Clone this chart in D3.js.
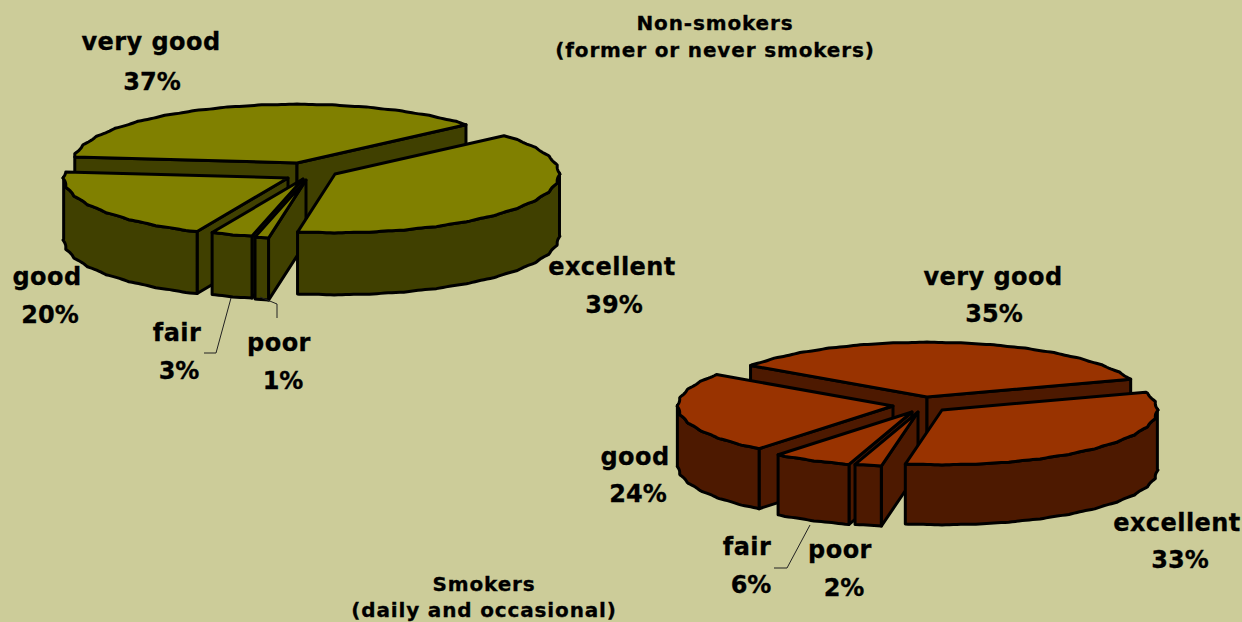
<!DOCTYPE html>
<html>
<head>
<meta charset="utf-8">
<script src="https://cdn.jsdelivr.net/npm/d3@7/dist/d3.min.js"></script>
<style>
  html, body { margin: 0; padding: 0; background: #cccc99; }
  svg { display: block; }
  text { font-family: "DejaVu Sans", Verdana, sans-serif; font-weight: bold; fill: #000; stroke: #000; stroke-width: 0.3px; }
</style>
</head>
<body>
<svg></svg>
<script>
// clockwise from the cut at upper left
const categories = ["very good", "excellent", "poor", "fair", "good"];
const nonSmokers = [37, 39, 1, 3, 20];
const smokers = [35, 33, 2, 6, 24];
const titleNon = ["Non-smokers", "(former or never smokers)"];
const titleSmokers = ["Smokers", "(daily and occasional)"];

const width = 1242;
const height = 622;
const toRad = Math.PI / 180;

const svg = d3.select("svg").attr("width", width).attr("height", height);

// apex = where each exploded slice has its point, paint = back to front
const leftPie = {
  values: nonSmokers,
  start: -84,
  rx: 225,
  ry: 59,
  depth: 62,
  top: "#808000",
  side: "#404000",
  apex: [[297, 163], [335, 174], [306, 180], [303, 179], [288, 178]],
  paint: [0, 4, 3, 2, 1],
  labels: [[151, 50, 152, 90], [612, 275, 614, 313], [279, 351, 283, 389], [177, 341, 179, 379], [47, 285, 50, 323]],
  leaders: [[[231, 298], [216, 353], [204, 353]], [[260, 297], [277, 304], [277, 318]]]
};
const rightPie = {
  values: smokers,
  start: -55,
  rx: 216,
  ry: 55,
  depth: 60,
  top: "#993300",
  side: "#4d1900",
  apex: [[927, 397], [942, 410], [918, 412], [912, 412], [893, 406]],
  paint: [0, 4, 3, 2, 1],
  labels: [[993, 285, 994, 322], [1177, 531, 1180, 568], [840, 558, 844, 596], [747, 555, 751, 593], [635, 465, 638, 502]],
  leaders: [[[810, 525], [787, 568], [774, 568]]]
};

const line = d3.line();

function drawPie(cfg) {
  const arcs = d3
    .pie()
    .sort(null)
    .startAngle(cfg.start * toRad)
    .endAngle((cfg.start + 360) * toRad)(cfg.values);

  const x = d3.scaleLinear().domain([-1, 1]).range([-cfg.rx, cfg.rx]);
  const y = d3.scaleLinear().domain([-1, 1]).range([cfg.ry, -cfg.ry]);
  const g = svg.append("g");

  cfg.paint.forEach(i => {
    const a = arcs[i];
    const [ax, ay] = cfg.apex[i];
    // rim point, the little scallop is how the old export draws its ellipse
    const rim = t => {
      const r = 1 - 0.008 * Math.abs(Math.sin(t * 20));
      return [ax + x(r * Math.sin(t)), ay + y(r * Math.cos(t))];
    };
    const down = p => [p[0], p[1] + cfg.depth];

    const angles = d3.range(a.startAngle, a.endAngle, 1 * toRad).concat(a.endAngle);
    const rimTop = angles.map(rim);
    const first = rimTop[0];
    const last = rimTop[rimTop.length - 1];
    const apex = [ax, ay];

    const slice = g.append("g")
      .attr("stroke", "#000")
      .attr("stroke-width", 3)
      .attr("stroke-linejoin", "round");

    // only the cut faces turned to the viewer
    const walls = [];
    if (Math.sin(a.startAngle) < 0) walls.push(first);
    if (Math.sin(a.endAngle) > 0) walls.push(last);
    walls.forEach(p => {
      slice.append("path")
        .attr("fill", cfg.side)
        .attr("d", line([apex, p, down(p), down(apex)]) + "Z");
    });

    const front = angles.filter(t => Math.cos(t) < 0.02).map(rim);
    if (front.length > 1) {
      slice.append("path")
        .attr("fill", cfg.side)
        .attr("d", line(front.concat(front.map(down).reverse())) + "Z");
    }

    slice.append("path")
      .attr("fill", cfg.top)
      .attr("d", line([apex].concat(rimTop)) + "Z");
  });

  cfg.leaders.forEach(l => {
    g.append("path")
      .attr("fill", "none")
      .attr("stroke", "#222")
      .attr("stroke-width", 1)
      .attr("d", line(l));
  });

  arcs.forEach((a, i) => {
    const [lx, ly, vx, vy] = cfg.labels[i];
    g.append("text")
      .attr("x", lx)
      .attr("y", ly)
      .attr("text-anchor", "middle")
      .attr("font-size", 24)
      .attr("letter-spacing", 0.45)
      .text(categories[i]);
    g.append("text")
      .attr("x", vx)
      .attr("y", vy)
      .attr("text-anchor", "middle")
      .attr("font-size", 24)
      .text(a.data + "%");
  });
}

function drawTitle(lines, cx, ys) {
  svg.selectAll(null)
    .data(lines)
    .join("text")
    .attr("x", cx)
    .attr("y", (_, i) => ys[i])
    .attr("text-anchor", "middle")
    .attr("font-size", 20)
    .attr("letter-spacing", 0.85)
    .text(d => d);
}

drawPie(leftPie);
drawPie(rightPie);
drawTitle(titleNon, 715, [30, 57]);
drawTitle(titleSmokers, 484, [591, 617]);
</script>
</body>
</html>
